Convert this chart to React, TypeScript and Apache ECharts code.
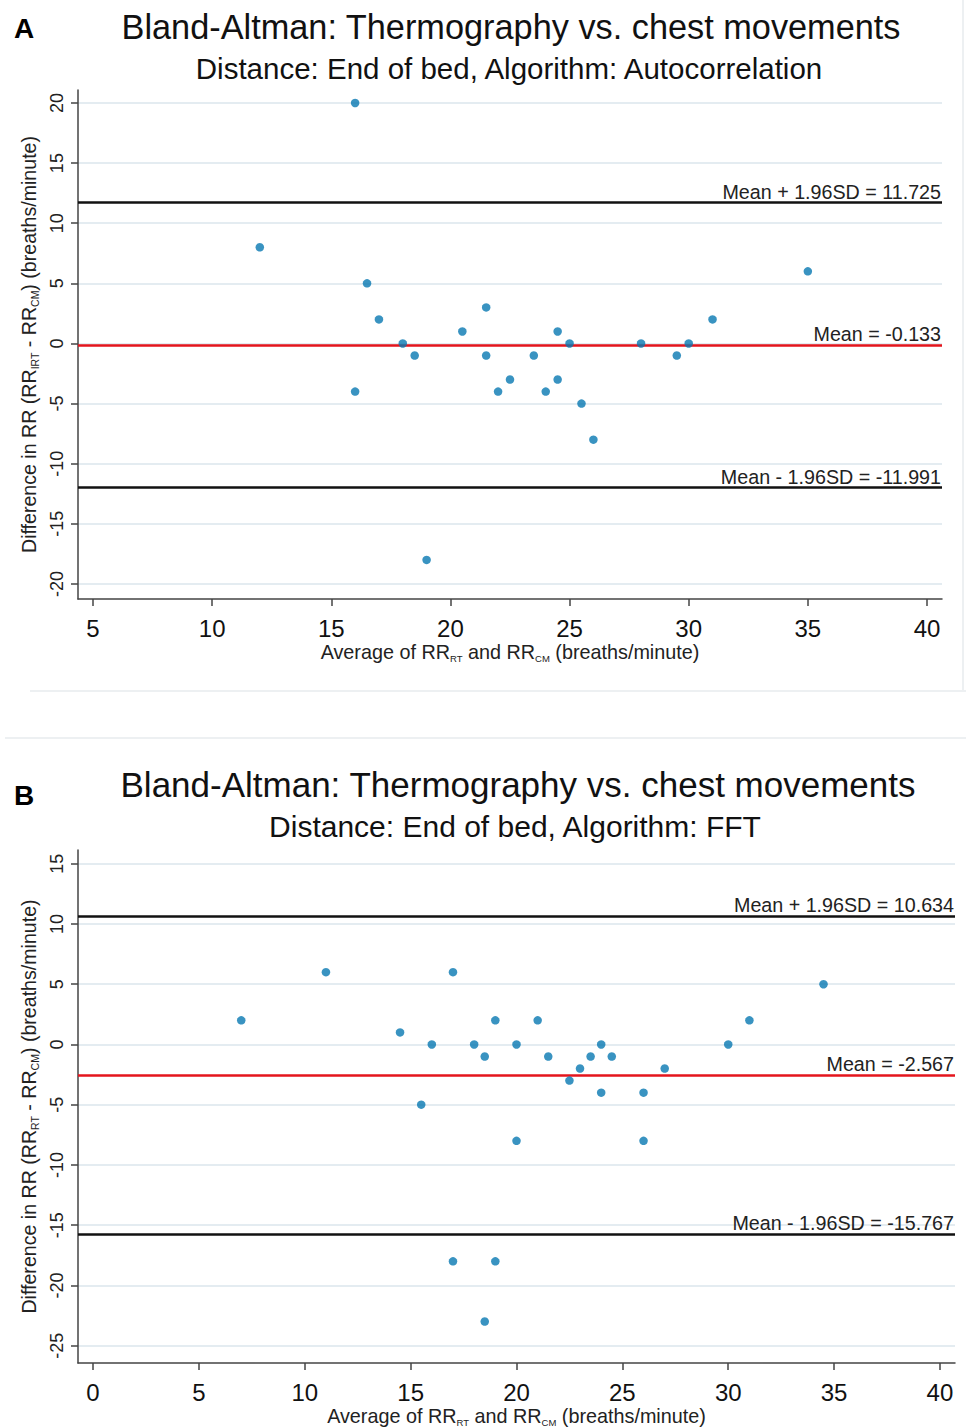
import React, { useEffect, useRef } from "react";
import * as echarts from "echarts";

// Panel A: Autocorrelation
const avgA = [12, 16, 16.5, 17, 18, 18.5, 16, 20.5, 21.5, 21.5, 22, 22.5, 23.5, 24, 24.5, 24.5, 25, 25.5, 26, 28, 29.5, 30, 31, 35, 19];
const diffA = [8, 20, 5, 2, 0, -1, -4, 1, 3, -1, -4, -3, -1, -4, -3, 1, 0, -5, -8, 0, -1, 0, 2, 6, -18];
const meanA = -0.133;
const upperA = 11.725;
const lowerA = -11.991;
const xTicksA = [5, 10, 15, 20, 25, 30, 35, 40];
const yTicksA = [-20, -15, -10, -5, 0, 5, 10, 15, 20];

// Panel B: FFT
const avgB = [7, 11, 14.5, 16, 15.5, 17, 18, 18.5, 19, 20, 20, 21, 21.5, 22.5, 23, 23.5, 24, 24, 24.5, 26, 26, 27, 30, 31, 34.5, 17, 19, 18.5];
const diffB = [2, 6, 1, 0, -5, 6, 0, -1, 2, 0, -8, 2, -1, -3, -2, -1, 0, -4, -1, -4, -8, -2, 0, 2, 5, -18, -18, -23];
const meanB = -2.567;
const upperB = 10.634;
const lowerB = -15.767;
const xTicksB = [0, 5, 10, 15, 20, 25, 30, 35, 40];
const yTicksB = [-25, -20, -15, -10, -5, 0, 5, 10, 15];

const titleMain = "Bland-Altman: Thermography vs. chest movements";
const subA = "Distance: End of bed, Algorithm: Autocorrelation";
const subB = "Distance: End of bed, Algorithm: FFT";

const FONT = "Liberation Sans, Arial, sans-serif";
const DOT = "#0878b2";

export default function App() {
  const ref = useRef<HTMLDivElement>(null);
  useEffect(() => {
    if (!ref.current) return;
    const chart = echarts.init(ref.current, undefined, { renderer: "svg" });

    const richName = (size: number, subSize: number) => ({
      b: { fontSize: size, fontFamily: FONT, color: "#222", lineHeight: 23 },
      s: { fontSize: subSize, fontFamily: FONT, color: "#222", lineHeight: 13, verticalAlign: "bottom" as const },
    });

    const xAxisCommon = (min: number, max: number, ticks: number[], gridIndex: number, sub1: string, sub2: string) => ({
      type: "value" as const,
      gridIndex,
      min,
      max,
      name: `{b|Average of RR}{s|${sub1}}{b| and RR}{s|${sub2}}{b| (breaths/minute)}`,
      nameLocation: "middle" as const,
      nameGap: 41,
      nameTextStyle: { rich: richName(19.8, 9.5), verticalAlign: "top" as const },
      axisLine: { show: true, onZero: false, lineStyle: { color: "#444", width: 1.5 } },
      axisTick: { show: true, length: 7, customValues: ticks, lineStyle: { color: "#444", width: 1.5 } },
      axisLabel: { customValues: ticks, margin: 17, fontSize: 24, color: "#111", fontFamily: FONT },
      splitLine: { show: false },
    });

    const yAxisCommon = (min: number, max: number, ticks: number[], gridIndex: number, sub1: string, sub2: string) => ({
      type: "value" as const,
      gridIndex,
      min,
      max,
      name: `{b|Difference in RR (RR}{s|${sub1}}{b| - RR}{s|${sub2}}{b|) (breaths/minute)}`,
      nameLocation: "middle" as const,
      nameGap: 38,
      nameTextStyle: { rich: richName(19.6, 10.5) },
      axisLine: { show: true, onZero: false, lineStyle: { color: "#444", width: 1.5 } },
      axisTick: { show: true, length: 7, customValues: ticks, lineStyle: { color: "#444", width: 1.5 } },
      axisLabel: { customValues: ticks, rotate: 90, margin: 12, fontSize: 18, color: "#222", fontFamily: FONT },
      splitLine: { show: true, lineStyle: { color: "#e4ecf1", width: 2 } },
    });

    const meanLines = (mean: number, upper: number, lower: number) => ({
      silent: true,
      symbol: "none",
      label: {
        position: "insideEndTop" as const,
        distance: 1,
        fontSize: 19.7,
        color: "#222",
        fontFamily: FONT,
      },
      data: [
        { yAxis: upper, lineStyle: { color: "#111", width: 2.5, type: "solid" as const }, label: { formatter: `Mean + 1.96SD = ${upper.toFixed(3)}` } },
        { yAxis: mean, lineStyle: { color: "#e4151c", width: 2.5, type: "solid" as const }, label: { formatter: `Mean = ${mean.toFixed(3)}` } },
        { yAxis: lower, lineStyle: { color: "#111", width: 2.5, type: "solid" as const }, label: { formatter: `Mean - 1.96SD = ${lower.toFixed(3)}` } },
      ],
    });

    const option = {
      animation: false,
      backgroundColor: "#fff",
      grid: [
        { left: 78, top: 90, width: 864, height: 509 },
        { left: 78, top: 850, width: 877, height: 517 },
      ],
      xAxis: [
        xAxisCommon(4.37, 40.63, xTicksA, 0, "RT", "CM"),
        xAxisCommon(-0.71, 40.71, xTicksB, 1, "RT", "CM"),
      ],
      yAxis: [
        yAxisCommon(-21.25, 21.08, yTicksA, 0, "IRT", "CM"),
        yAxisCommon(-26.44, 16.14, yTicksB, 1, "RT", "CM"),
      ],
      series: [
        {
          type: "scatter",
          xAxisIndex: 0,
          yAxisIndex: 0,
          symbol: "circle",
          symbolSize: 8.5,
          itemStyle: { color: DOT },
          data: avgA.map((x, i) => [x, diffA[i]]),
          markLine: meanLines(meanA, upperA, lowerA),
          z: 5,
        },
        {
          type: "scatter",
          xAxisIndex: 1,
          yAxisIndex: 1,
          symbol: "circle",
          symbolSize: 8.5,
          itemStyle: { color: DOT },
          data: avgB.map((x, i) => [x, diffB[i]]),
          markLine: meanLines(meanB, upperB, lowerB),
          z: 5,
        },
      ],
      graphic: [
        { type: "line", shape: { x1: 30, y1: 691, x2: 966, y2: 691 }, style: { stroke: "#edf0f2", lineWidth: 2 }, silent: true },
        { type: "line", shape: { x1: 963, y1: 0, x2: 963, y2: 691 }, style: { stroke: "#edf0f2", lineWidth: 2 }, silent: true },
        { type: "line", shape: { x1: 5, y1: 738, x2: 966, y2: 738 }, style: { stroke: "#edf0f2", lineWidth: 2 }, silent: true },
        { type: "text", x: 24, y: 28, style: { text: "A", fontSize: 28, fontWeight: "bold", fontFamily: FONT, fill: "#000", textAlign: "center", textVerticalAlign: "middle" } },
        { type: "text", x: 24, y: 795, style: { text: "B", fontSize: 28, fontWeight: "bold", fontFamily: FONT, fill: "#000", textAlign: "center", textVerticalAlign: "middle" } },
        { type: "text", x: 511, y: 27, style: { text: titleMain, fontSize: 34.3, fontFamily: FONT, fill: "#111", textAlign: "center", textVerticalAlign: "middle" } },
        { type: "text", x: 509, y: 68, style: { text: subA, fontSize: 29.5, fontFamily: FONT, fill: "#111", textAlign: "center", textVerticalAlign: "middle" } },
        { type: "text", x: 518, y: 784, style: { text: titleMain, fontSize: 35, fontFamily: FONT, fill: "#111", textAlign: "center", textVerticalAlign: "middle" } },
        { type: "text", x: 515, y: 826, style: { text: subB, fontSize: 30, fontFamily: FONT, fill: "#111", textAlign: "center", textVerticalAlign: "middle" } },
      ],
    };

    chart.setOption(option as any);
    return () => chart.dispose();
  }, []);

  return (
    <div
      ref={ref}
      style={{ position: "absolute", left: 0, top: 0, width: 966, height: 1428, background: "#fff" }}
    />
  );
}
